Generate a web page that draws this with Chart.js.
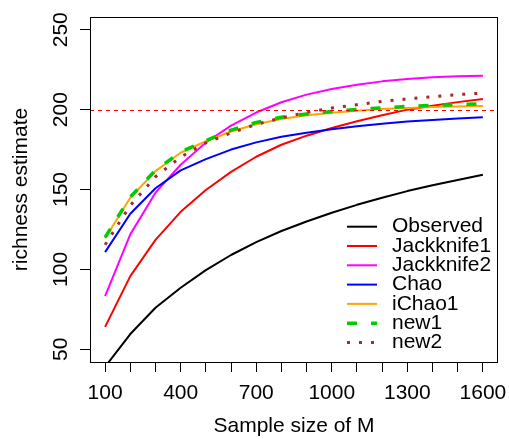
<!DOCTYPE html>
<html lang="en">
<head>
  <meta charset="UTF-8">
  <title>Richness estimate vs sample size</title>
  <script src="https://cdn.jsdelivr.net/npm/chart.js@4.4.1/dist/chart.umd.min.js"></script>
  <style>
    html, body { margin: 0; padding: 0; background: #ffffff; }
    #wrap { width: 509px; height: 439px; }
  </style>
</head>
<body>
<div id="wrap"><canvas id="richChart"></canvas></div>
<script>
  // values
  const sampleSizes = [100, 200, 300, 400, 500, 600, 700, 800, 900, 1000, 1100, 1200, 1300, 1400, 1500, 1600];
  const observed   = [39, 59.5, 76, 88.5, 99.5, 109, 117, 124, 130, 135.4, 140.4, 144.8, 149, 152.7, 156, 159.2];
  const jackknife1 = [64, 95.8, 118.5, 136, 149.7, 161, 170.5, 178, 183.7, 188.5, 192.7, 196.5, 200, 202.5, 204.7, 206.7];
  const jackknife2 = [83.3, 121.9, 148, 165.5, 179.4, 190, 198.2, 204.6, 209.4, 212.9, 215.6, 217.7, 219.2, 220.3, 220.9, 221.2];
  const chao       = [110.8, 134.8, 150.8, 162, 169, 175, 179.5, 183, 185.6, 187.7, 189.6, 191.2, 192.5, 193.5, 194.4, 195.2];
  const iChao1     = [119.5, 144.8, 161.5, 173, 180.2, 186.3, 190.8, 194.1, 196.5, 198.1, 199.3, 200.4, 201, 201.6, 202, 202.3];
  const new1       = [120, 145.3, 162, 173.5, 180.6, 187.2, 192, 195.2, 197.3, 198.8, 200.1, 201.1, 202, 202.7, 203.2, 203.7];
  const new2       = [115.4, 140, 158, 170.3, 179.2, 185.4, 190.8, 194.8, 198.3, 201, 203.1, 205.2, 206.7, 208.1, 209.4, 210.4];

  const seriesNames = ["Observed", "Jackknife1", "Jackknife2", "Chao", "iChao1", "new1", "new2"];
  const trueRichness = 200;

  const xLimits = [40, 1660];
  const yLimits = [42, 258];
  const xLabelTicks = [100, 400, 700, 1000, 1300, 1600];
  const yLabelTicks = [50, 100, 150, 200, 250];

  const FONT = "'Liberation Sans', Arial, Helvetica, sans-serif";

  function toPoints(vals) {
    return sampleSizes.map((s, i) => ({ x: s, y: vals[i] }));
  }

  const styles = [
    { color: "#000000", width: 2, dash: [] },
    { color: "#FF0000", width: 2, dash: [] },
    { color: "#FF00FF", width: 2, dash: [] },
    { color: "#0000FF", width: 2, dash: [] },
    { color: "#FFA500", width: 2, dash: [] },
    { color: "#00CD00", width: 3.5, dash: [10, 14] },
    { color: "#A52A2A", width: 3, dash: [3, 9] }
  ];
  const allSeries = [observed, jackknife1, jackknife2, chao, iChao1, new1, new2];

  const datasets = allSeries.map((vals, i) => ({
    label: seriesNames[i],
    data: toPoints(vals),
    borderColor: styles[i].color,
    borderWidth: styles[i].width,
    borderDash: styles[i].dash,
    borderJoinStyle: "round",
    pointRadius: 0,
    tension: 0,
    fill: false,
    order: 20 - i   // later series on top, like R
  }));

  // abline(h = 200), box, tick labels and legend drawn like base R
  const rStyle = {
    id: "rStyle",
    afterDatasetsDraw(chart) {
      const ctx = chart.ctx;
      const area = chart.chartArea;
      const y = Math.round(chart.scales.y.getPixelForValue(trueRichness)) + 0.5;
      ctx.save();
      ctx.strokeStyle = "#FF0000";
      ctx.lineWidth = 1;
      ctx.setLineDash([4, 4]);
      ctx.beginPath();
      ctx.moveTo(area.left, y);
      ctx.lineTo(area.right, y);
      ctx.stroke();
      ctx.restore();
    },
    afterDraw(chart) {
      const ctx = chart.ctx;
      const area = chart.chartArea;
      const xs = chart.scales.x, ys = chart.scales.y;
      ctx.save();
      ctx.strokeStyle = "#000";
      ctx.lineWidth = 1;
      ctx.strokeRect(Math.round(area.left) + 0.5, Math.round(area.top) + 0.5,
        Math.round(area.right - area.left) - 1, Math.round(area.bottom - area.top));

      ctx.fillStyle = "#000";
      ctx.font = "21px " + FONT;
      ctx.textBaseline = "alphabetic";
      ctx.textAlign = "center";
      xLabelTicks.forEach(v => {
        ctx.fillText(String(v), xs.getPixelForValue(v), area.bottom + 36.5);
      });
      yLabelTicks.forEach(v => {
        ctx.save();
        ctx.translate(area.left - 23, ys.getPixelForValue(v));
        ctx.rotate(-Math.PI / 2);
        ctx.fillText(String(v), 0, 0);
        ctx.restore();
      });

      // legend, bottomright, no box
      const lx = area.right - 151;
      const tx = area.right - 106;
      let ly = area.bottom - 135.3;
      ctx.textAlign = "left";
      ctx.textBaseline = "middle";
      chart.data.datasets.forEach(d => {
        ctx.beginPath();
        ctx.strokeStyle = d.borderColor;
        ctx.lineWidth = d.borderWidth;
        ctx.setLineDash(d.borderDash || []);
        ctx.moveTo(lx, ly);
        ctx.lineTo(lx + 30, ly);
        ctx.stroke();
        ctx.setLineDash([]);
        ctx.fillText(d.label, tx, ly);
        ly += 19.3;
      });
      ctx.restore();
    }
  };

  new Chart(document.getElementById("richChart"), {
    type: "line",
    data: { datasets: datasets },
    options: {
      responsive: true,
      maintainAspectRatio: false,
      animation: false,
      devicePixelRatio: 1,
      layout: { padding: { top: 17, right: 11, bottom: 0, left: 0 } },
      plugins: {
        legend: { display: false },
        tooltip: { enabled: false }
      },
      scales: {
        x: {
          type: "linear",
          min: xLimits[0],
          max: xLimits[1],
          ticks: { stepSize: 100, includeBounds: false, display: false },
          grid: { drawOnChartArea: false, drawTicks: true, tickLength: 10, color: "#000", lineWidth: 1 },
          border: { display: false },
          title: {
            display: true,
            text: "Sample size of M",
            color: "#000",
            font: { family: FONT, size: 21 },
            padding: { top: 41.8, bottom: 0 }
          }
        },
        y: {
          type: "linear",
          min: yLimits[0],
          max: yLimits[1],
          ticks: { stepSize: 50, includeBounds: false, display: false },
          grid: { drawOnChartArea: false, drawTicks: true, tickLength: 10, color: "#000", lineWidth: 1 },
          border: { display: false },
          title: {
            display: true,
            text: "richness estimate",
            color: "#000",
            font: { family: FONT, size: 21 },
            padding: { top: 8.4, bottom: 46.4 }
          }
        }
      }
    },
    plugins: [rStyle]
  });
</script>
</body>
</html>
